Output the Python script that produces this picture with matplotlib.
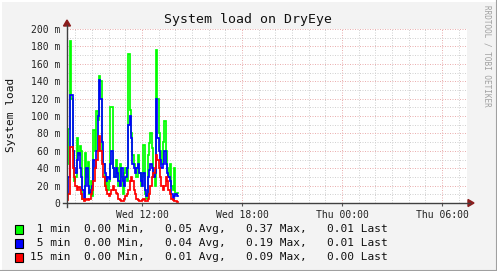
import numpy as np
import matplotlib
matplotlib.use("Agg")
import matplotlib.pyplot as plt
from matplotlib.lines import Line2D
from matplotlib.patches import Rectangle, Polygon

# 5 minute samples starting Wed 07:30, values in milli-load
load_1min = [45, 85, 186, 120, 60, 25, 30, 75, 55, 65, 60, 5, 3, 57, 30, 47, 10, 25, 8, 84,
             60, 106, 95, 146, 140, 60, 45, 20, 30, 15, 25, 110, 110, 40, 30, 50, 40, 20, 45, 30,
             10, 35, 40, 25, 171, 107, 80, 55, 45, 40, 30, 55, 35, 20, 30, 67, 10, 5, 55, 69,
             80, 63, 35, 20, 176, 120, 80, 60, 45, 70, 94, 60, 40, 30, 45, 20, 15, 40, 10, 12]
load_5min = [10, 30, 124, 124, 60, 40, 35, 50, 58, 40, 30, 15, 5, 20, 40, 20, 12, 15, 20, 50,
             40, 60, 100, 141, 120, 70, 45, 35, 25, 30, 28, 45, 60, 40, 30, 40, 35, 25, 20, 40,
             25, 20, 30, 40, 90, 100, 75, 45, 40, 35, 40, 45, 35, 25, 20, 35, 15, 8, 30, 38,
             45, 40, 30, 35, 120, 75, 60, 50, 40, 45, 60, 45, 35, 30, 25, 10, 5, 8, 10, 8]
load_15min = [3, 10, 64, 64, 40, 30, 20, 15, 18, 15, 10, 5, 2, 3, 5, 3, 5, 10, 15, 25,
              40, 50, 60, 77, 60, 45, 30, 20, 15, 10, 8, 10, 15, 20, 15, 12, 10, 5, 3, 2,
              2, 5, 8, 10, 15, 25, 30, 25, 15, 10, 5, 3, 2, 2, 3, 5, 2, 2, 5, 10,
              20, 30, 35, 40, 55, 50, 40, 30, 20, 15, 20, 30, 25, 15, 10, 5, 3, 2, 2, 1]

names = ["1", "5", "15"]
colors = ["#00FF00", "#0000FF", "#FF0000"]
mins = [0.00, 0.00, 0.00]
avgs = [0.05, 0.04, 0.01]
maxs = [0.37, 0.19, 0.09]
lasts = [0.01, 0.01, 0.00]

tick_pos = [270, 630, 990, 1350]  # minutes after Wed 07:30
tick_labels = ["Wed 12:00", "Wed 18:00", "Thu 00:00", "Thu 06:00"]

W, H = 497, 271
mono = "DejaVu Sans Mono"


def fx(x):
    return x / W


def fy(y):
    return 1 - y / H


fig = plt.figure(figsize=(W / 100, H / 100), dpi=100, facecolor="#F3F3F3")
ax = fig.add_axes([fx(67), fy(203), 400 / W, 174 / H])
ax.set_facecolor("white")
ax.set_xlim(0, 1440)
ax.set_ylim(0, 200)

ax.set_xticks(tick_pos)
ax.set_xticklabels(tick_labels, family=mono, fontsize=7)
ax.set_xticks(np.arange(30, 1440, 60), minor=True)
yt = list(range(0, 201, 20))
ax.set_yticks(yt)
ax.set_yticklabels(["0" if v == 0 else "%d m" % v for v in yt], family=mono, fontsize=7)
ax.set_yticks(range(10, 200, 20), minor=True)

ax.grid(which="minor", color="#d2d2d2", linestyle=(0, (1, 1.5)), linewidth=0.72)
ax.grid(which="major", color="#ebb0b0", linestyle=(0, (1, 1.5)), linewidth=0.72)
ax.set_axisbelow(True)
ax.tick_params(axis="y", which="both", length=0, pad=5, colors="#222222")
ax.tick_params(axis="x", which="major", length=2, pad=3, color="#555555", labelcolor="#222222")
ax.tick_params(axis="x", which="minor", length=0)
for s in ax.spines.values():
    s.set_visible(False)

t = np.arange(len(load_1min) + 1) * 5
for vals, c in zip([load_1min, load_5min, load_15min], colors):
    v = list(vals) + [vals[-1]]
    ax.step(t, v, where="post", color=c, linewidth=1.25, solid_joinstyle="miter")

# axes with arrows
fig.add_artist(Line2D([fx(63), fx(470)], [fy(203), fy(203)], color="#404040", lw=1))
fig.add_artist(Line2D([fx(67), fx(67)], [fy(207), fy(25)], color="#404040", lw=1))
fig.add_artist(Polygon([[fx(468), fy(199.5)], [fx(474), fy(203)], [fx(468), fy(206.5)]],
                       closed=True, color="#8b1c1c", transform=fig.transFigure))
fig.add_artist(Polygon([[fx(63.5), fy(26)], [fx(67), fy(20)], [fx(70.5), fy(26)]],
                       closed=True, color="#8b1c1c", transform=fig.transFigure))

fig.text(fx(248), fy(20), "System load on DryEye", ha="center", va="center",
         family=mono, fontsize=9.5, color="#111111")
fig.text(fx(11), fy(115), "System load", ha="center", va="center", rotation=90,
         family=mono, fontsize=8, color="#111111")
fig.text(fx(487), fy(5), "RRDTOOL / TOBI OETIKER", ha="center", va="top", rotation=-90,
         family=mono, fontsize=5.5, color="#a0a0a0")

row_y = [229, 243, 257]
for i in range(3):
    fig.add_artist(Rectangle((fx(15), fy(row_y[i] + 4.5)), 8 / W, 9 / H, facecolor=colors[i],
                             edgecolor="black", lw=0.8, transform=fig.transFigure))
    line = "%2s min  %4.2f Min,   %4.2f Avg,   %4.2f Max,   %4.2f Last" % (
        names[i], mins[i], avgs[i], maxs[i], lasts[i])
    fig.text(fx(30), fy(row_y[i]), line, ha="left", va="center", family=mono,
             fontsize=8, color="#111111")

# 3d frame
fig.add_artist(Line2D([0, 1], [fy(0.5), fy(0.5)], color="white", lw=1.5))
fig.add_artist(Line2D([fx(0.5), fx(0.5)], [0, 1], color="white", lw=1.5))
fig.add_artist(Line2D([0, 1], [fy(270.5), fy(270.5)], color="#a0a0a0", lw=1.5))
fig.add_artist(Line2D([fx(496.5), fx(496.5)], [0, 1], color="#a0a0a0", lw=1.5))

fig.savefig("out.png", dpi=100, facecolor=fig.get_facecolor())
